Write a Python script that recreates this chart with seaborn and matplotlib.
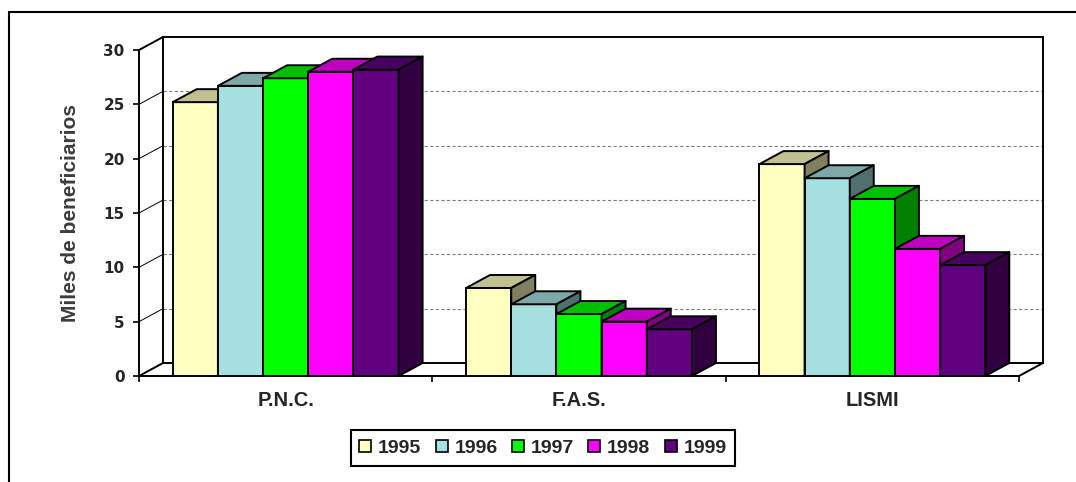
import matplotlib.pyplot as plt
import seaborn as sns
import pandas as pd
from matplotlib.patches import Polygon
from matplotlib.lines import Line2D

# datos (miles de beneficiarios)
programas = ['P.N.C.', 'F.A.S.', 'LISMI']
anios = ['1995', '1996', '1997', '1998', '1999']
v1995 = [25.2, 8.1, 19.5]
v1996 = [26.7, 6.6, 18.2]
v1997 = [27.4, 5.7, 16.3]
v1998 = [28.0, 5.0, 11.7]
v1999 = [28.2, 4.3, 10.2]
valores = [v1995, v1996, v1997, v1998, v1999]

# colores frente / tapa / lateral
colores = ['#FFFFC0', '#A6DFE0', '#00FF00', '#FF00FF', '#600080']
colores_tapa = ['#C0C090', '#7CA8A8', '#00C000', '#C000C0', '#480060']
colores_lado = ['#808060', '#507070', '#008000', '#800080', '#300040']

df = pd.DataFrame({
    'programa': programas * len(anios),
    'anio': [a for a in anios for _ in programas],
    'miles': [v for serie in valores for v in serie],
})

sns.set_style('white')
plt.rcParams['font.family'] = ['Liberation Sans', 'DejaVu Sans']

W, H = 1076, 482
fig = plt.figure(figsize=(W / 100, H / 100), dpi=100)
ax = fig.add_axes([139 / W, 1 - 376 / H, 880 / W, 326 / H])

sns.barplot(data=df, x='programa', y='miles', hue='anio', order=programas,
            hue_order=anios, palette=colores, saturation=1, width=0.77,
            edgecolor='black', linewidth=1.4, legend=False, ax=ax)

ax.set_xlim(-0.5, 2.5)
ax.set_ylim(0, 30)

# profundidad del efecto 3D en unidades de datos
dx = 24 / 880 * 3
dy = 13 / 326 * 30

# tapas y laterales de cada barra
for k, cont in enumerate(ax.containers):
    for bar in cont:
        x0 = bar.get_x()
        w = bar.get_width()
        h = bar.get_height()
        bar.set_zorder(10 + 3 * k)
        tapa = Polygon([(x0, h), (x0 + w, h), (x0 + w + dx, h + dy), (x0 + dx, h + dy)],
                       closed=True, fc=colores_tapa[k], ec='black', lw=1.4,
                       zorder=11 + 3 * k, clip_on=False, joinstyle='round')
        lado = Polygon([(x0 + w, 0), (x0 + w + dx, dy), (x0 + w + dx, h + dy), (x0 + w, h)],
                       closed=True, fc=colores_lado[k], ec='black', lw=1.4,
                       zorder=12 + 3 * k, clip_on=False, joinstyle='round')
        ax.add_patch(tapa)
        ax.add_patch(lado)

# paredes y suelo
xa, xb = -0.5, 2.5
for g in [5, 10, 15, 20, 25]:
    ax.plot([xa + dx, xb + dx], [g + dy, g + dy], ls=(0, (3, 2)), color='#808080',
            lw=0.8, zorder=1, clip_on=False)
    ax.plot([xa, xa + dx], [g, g + dy], color='black', lw=0.7, zorder=1, clip_on=False)

muros = [
    ([xa + dx, xb + dx], [30 + dy, 30 + dy]),
    ([xa + dx, xa + dx], [dy, 30 + dy]),
    ([xb + dx, xb + dx], [dy, 30 + dy]),
    ([xa + dx, xb + dx], [dy, dy]),
    ([xa, xa], [0, 30]),
    ([xa, xb], [0, 0]),
    ([xa, xa + dx], [30, 30 + dy]),
    ([xa, xa + dx], [0, dy]),
    ([xb, xb + dx], [0, dy]),
]
for xs, ys in muros:
    ax.plot(xs, ys, color='black', lw=1.4, zorder=2, clip_on=False,
            solid_capstyle='projecting')

for s in ax.spines.values():
    s.set_visible(False)

# ejes
ax.set_yticks(range(0, 31, 5))
ax.tick_params(axis='y', left=True, direction='out', length=4.3, width=1.4,
               labelsize=11, pad=6)
for lbl in ax.get_yticklabels():
    lbl.set_fontfamily('DejaVu Sans')
    lbl.set_fontweight('bold')

ax.set_xticks([-0.5, 0.5, 1.5, 2.5], minor=True)
ax.tick_params(axis='x', which='major', bottom=False, length=0, pad=11,
               labelsize=14.5)
ax.tick_params(axis='x', which='minor', bottom=True, direction='out',
               length=4, width=1.4)
for lbl in ax.get_xticklabels():
    lbl.set_fontweight('bold')

ax.set_xlabel('')
ax.set_ylabel('Miles de beneficiarios', fontsize=15, fontweight='bold',
              color='#3c3c3c')
ax.yaxis.set_label_coords(-0.067, 0.5)

# marco exterior
fig.add_artist(Line2D([9 / W, 9 / W], [0, 1 - 12 / H], color='black', lw=1.5,
                      transform=fig.transFigure))
fig.add_artist(Line2D([9 / W, 1], [1 - 12 / H, 1 - 12 / H], color='black', lw=1.5,
                      transform=fig.transFigure))

# leyenda
handles = [Line2D([], [], marker='s', ls='none', markersize=8, markerfacecolor=c,
                  markeredgecolor='black', markeredgewidth=1.2) for c in colores]
leg = fig.legend(handles, anios, loc='center', bbox_to_anchor=(543 / W, 1 - 448 / H),
                 ncol=5, prop={'weight': 'bold', 'size': 14}, frameon=True,
                 fancybox=False, edgecolor='black', framealpha=1,
                 handlelength=0.6, handletextpad=0.35, columnspacing=0.75,
                 borderpad=0.45)
leg.get_frame().set_linewidth(1.5)

fig.savefig('out.png', dpi=100)
